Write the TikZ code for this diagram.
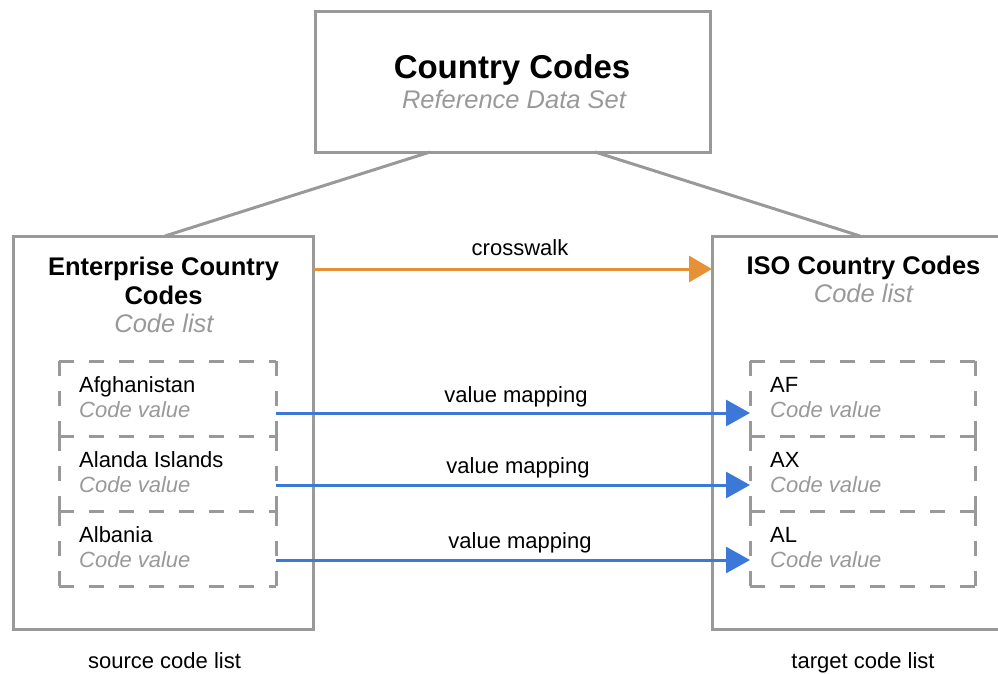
\documentclass[tikz,border=0pt]{standalone}
\usepackage{fontspec}
\setmainfont{Liberation Sans}
\usetikzlibrary{arrows.meta}
\definecolor{linegray}{HTML}{999999}
\definecolor{textgray}{HTML}{999999}
\definecolor{cwalk}{HTML}{E69138}
\definecolor{vmap}{HTML}{3C78D8}
\tikzset{
  box/.style={draw=linegray, line width=3pt, rectangle, inner sep=0pt, outer sep=0pt},
  itembox/.style={rectangle, inner sep=0pt, outer sep=0pt, anchor=north west},
  dashline/.style={draw=linegray, line width=3pt, dash pattern=on 15pt off 15pt},
  conn/.style={draw=linegray, line width=3pt},
  cwline/.style={draw=cwalk, line width=3pt, -{Triangle[length=23pt,width=26pt]}},
  vmline/.style={draw=vmap, line width=3pt, -{Triangle[length=24pt,width=26pt]}},
  bigtitle/.style={font=\fontsize{33}{38}\selectfont\bfseries, anchor=base, inner sep=0pt},
  subtitle/.style={font=\fontsize{25.5}{30}\selectfont\itshape, text=textgray, anchor=base, inner sep=0pt},
  listtitle/.style={font=\fontsize{25.5}{29}\selectfont\bfseries, anchor=base, inner sep=0pt},
  itemname/.style={font=\fontsize{22}{26}\selectfont, anchor=base west, inner sep=0pt},
  itemsub/.style={font=\fontsize{22}{26}\selectfont\itshape, text=textgray, anchor=base west, inner sep=0pt},
  plainlabel/.style={font=\fontsize{22}{26}\selectfont, anchor=base, inner sep=0pt}
}
\begin{document}
\begin{tikzpicture}[x=1pt,y=-1pt]
\useasboundingbox (0,0) rectangle (998,673);
\clip (0,0) rectangle (998,673);

% main boxes
\node[box, minimum width=395pt, minimum height=141pt] (ref) at (512.5,81.5) {};
\node[box, minimum width=300pt, minimum height=393pt] (src) at (163,432.5) {};
\node[box, minimum width=300pt, minimum height=393pt] (tgt) at (862,432.5) {};

% titles
\node[bigtitle] (refT) at (512,78) {Country Codes};
\node[subtitle] (refS) at (514,108) {Reference Data Set};
\node[listtitle] (srcT1) at (163.5,275) {Enterprise Country};
\node[listtitle] (srcT2) at (163.5,304) {Codes};
\node[subtitle] (srcS) at (164,332) {Code list};
\node[listtitle] (tgtT) at (863.5,274) {ISO Country Codes};
\node[subtitle] (tgtS) at (863.5,302) {Code list};

% connectors from reference data set
\draw[conn] ([xshift=-82.5pt]ref.south) -- ([xshift=2pt]src.north);
\draw[conn] ([xshift=82.5pt]ref.south) -- ([xshift=-2pt]tgt.north);

% source items
\node[itembox, minimum width=217pt, minimum height=75pt] (s1) at (59,361) {};
\node[itembox, minimum width=217pt, minimum height=75pt] (s2) at (59,436) {};
\node[itembox, minimum width=217pt, minimum height=75pt] (s3) at (59,511) {};
% target items
\node[itembox, minimum width=225pt, minimum height=75pt] (t1) at (750,361) {};
\node[itembox, minimum width=225pt, minimum height=75pt] (t2) at (750,436) {};
\node[itembox, minimum width=225pt, minimum height=75pt] (t3) at (750,511) {};

% dashed outlines of the items
\foreach \n in {s1,t1} {
  \draw[dashline] (\n.north west) -- (\n.north east);
}
\foreach \n in {s1,s2,s3,t1,t2,t3} {
  \draw[dashline] (\n.south west) -- (\n.south east);
  \draw[dashline] (\n.north west) -- (\n.south west);
  \draw[dashline] (\n.north east) -- (\n.south east);
}

% item texts
\node[itemname] (s1n) at (79,392.5) {Afghanistan};
\node[itemsub]  (s1s) at (79,417) {Code value};
\node[itemname] (s2n) at (79,467) {Alanda Islands};
\node[itemsub]  (s2s) at (79,492) {Code value};
\node[itemname] (s3n) at (79,542) {Albania};
\node[itemsub]  (s3s) at (79,567) {Code value};
\node[itemname] (t1n) at (770,392.5) {AF};
\node[itemsub]  (t1s) at (770,417) {Code value};
\node[itemname] (t2n) at (770,467) {AX};
\node[itemsub]  (t2s) at (770,492) {Code value};
\node[itemname] (t3n) at (770,542) {AL};
\node[itemsub]  (t3s) at (770,567) {Code value};

% crosswalk
\draw[cwline] ([yshift=163.5pt]src.east) -- ([yshift=163.5pt]tgt.west);
\node[plainlabel] (cwL) at (520,255) {crosswalk};

% value mappings
\draw[vmline] ([yshift=-14.5pt]s1.east) -- ([yshift=-14.5pt]t1.west);
\draw[vmline] ([yshift=-11.5pt]s2.east) -- ([yshift=-11.5pt]t2.west);
\draw[vmline] ([yshift=-11.5pt]s3.east) -- ([yshift=-11.5pt]t3.west);
\node[plainlabel] (vm1) at (516,402) {value mapping};
\node[plainlabel] (vm2) at (518,473.5) {value mapping};
\node[plainlabel] (vm3) at (520,548.5) {value mapping};

% bottom captions
\node[plainlabel] (srcC) at (164.5,668) {source code list};
\node[plainlabel] (tgtC) at (863,668) {target code list};
\end{tikzpicture}
\end{document}
